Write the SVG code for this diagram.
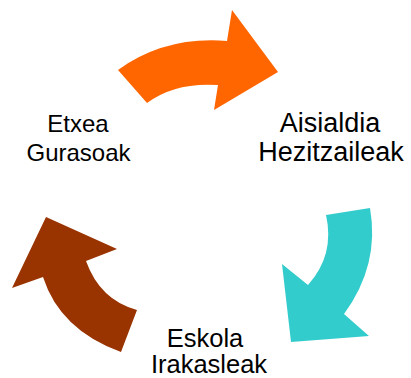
<svg xmlns="http://www.w3.org/2000/svg" width="411" height="378" viewBox="0 0 411 378">
<style>
text{font-family:"Liberation Sans",Arial,sans-serif;fill:#000;text-anchor:middle}
.l{font-size:24px}.r{font-size:27px}.b{font-size:25.5px}
</style>
<rect width="411" height="378" fill="#fff"/>
<g id="connectors">
<path id="arrow-orange" fill="#FF6600" d="M118,70 Q165,36 227,41 L232,10 L278,72 L214,110 L218,85 Q175,82 147,103 Z"/>
<path id="arrow-teal" fill="#33CCCC" d="M370,208 Q380,265 344,314 L369,336 L291,342 L282,264 L308,285 Q335,255 326,215 Z"/>
<path id="arrow-brown" fill="#993300" d="M121,352 Q60,330 43,277 L12,288 L46,217 L117,249 L86,261 Q100,300 137,310 Z"/>
</g>
<g id="node-etxea"><text class="l" x="78" y="132">Etxea</text><text class="l" x="78.5" y="161">Gurasoak</text></g>
<g id="node-aisialdia"><text class="r" x="330" y="132">Aisialdia</text><text class="r" x="331" y="161">Hezitzaileak</text></g>
<g id="node-eskola"><text class="b" x="205" y="347">Eskola</text><text class="b" x="209" y="373">Irakasleak</text></g>
</svg>
